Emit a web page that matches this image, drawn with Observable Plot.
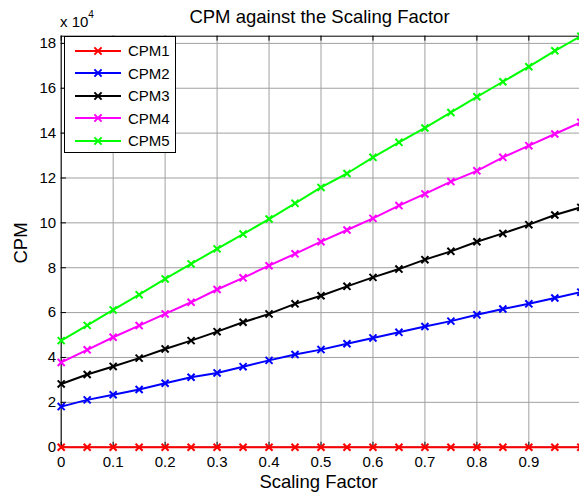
<!DOCTYPE html>
<html>
<head>
<meta charset="utf-8">
<script src="https://cdn.jsdelivr.net/npm/d3@7"></script>
<script src="https://cdn.jsdelivr.net/npm/@observablehq/plot@0.6"></script>
<style>
  html, body { margin: 0; padding: 0; background: #fff; overflow: hidden; }
  #wrap { position: relative; width: 579px; height: 495px; font-family: "Liberation Sans", Arial, sans-serif; color: #000; }
  #wrap svg { position: absolute; left: 0; top: 0; }
  .lbl { position: absolute; white-space: nowrap; font-family: "Liberation Sans", Arial, sans-serif; }
  #legend { position: absolute; left: 64px; top: 36px; width: 112px; height: 117px; border: 1px solid #000; background: #fff; box-sizing: border-box; }
  .row { position: absolute; left: 9px; height: 20px; display: flex; align-items: center; font-size: 15px; }
  .row span { margin-left: 6px; }
</style>
</head>
<body>
<div id="wrap"></div>
<script>
// ---- data (values in units of 10^4) ----
const scaling = [0, 0.05, 0.1, 0.15, 0.2, 0.25, 0.3, 0.35, 0.4, 0.45, 0.5, 0.55, 0.6, 0.65, 0.7, 0.75, 0.8, 0.85, 0.9, 0.95, 1.0];
const cpm1 = [0, 0, 0, 0, 0, 0, 0, 0, 0, 0, 0, 0, 0, 0, 0, 0, 0, 0, 0, 0, 0];
const cpm2 = [1.81, 2.11, 2.34, 2.57, 2.85, 3.12, 3.31, 3.59, 3.87, 4.13, 4.35, 4.61, 4.87, 5.12, 5.38, 5.62, 5.90, 6.16, 6.39, 6.65, 6.91];
const cpm3 = [2.82, 3.24, 3.60, 3.97, 4.38, 4.75, 5.15, 5.57, 5.94, 6.39, 6.75, 7.17, 7.57, 7.94, 8.36, 8.73, 9.16, 9.53, 9.92, 10.35, 10.69];
const cpm4 = [3.78, 4.34, 4.90, 5.42, 5.94, 6.46, 7.03, 7.55, 8.09, 8.62, 9.16, 9.68, 10.20, 10.77, 11.29, 11.84, 12.32, 12.92, 13.44, 13.96, 14.48];
const cpm5 = [4.75, 5.43, 6.12, 6.80, 7.50, 8.17, 8.84, 9.50, 10.17, 10.87, 11.58, 12.20, 12.92, 13.59, 14.23, 14.92, 15.62, 16.29, 16.96, 17.67, 18.32];
const seriesNames = ["CPM1", "CPM2", "CPM3", "CPM4", "CPM5"];
const seriesColors = ["#ff0000", "#0000ff", "#000000", "#ff00ff", "#00ff00"];
const xTicks = [0, 0.1, 0.2, 0.3, 0.4, 0.5, 0.6, 0.7, 0.8, 0.9, 1];
const xTickLabels = ["0", "0.1", "0.2", "0.3", "0.4", "0.5", "0.6", "0.7", "0.8", "0.9"];
const yTicks = [0, 2, 4, 6, 8, 10, 12, 14, 16, 18];
const yTickLabels = ["0", "2", "4", "6", "8", "10", "12", "14", "16", "18"];
const yMax = 18.32;
const titleText = "CPM against the Scaling Factor";
const xLabelText = "Scaling Factor";
const yLabelText = "CPM";

const allSeries = [cpm1, cpm2, cpm3, cpm4, cpm5];
const rows = allSeries.flatMap((vals, i) => vals.map((v, j) => ({series: seriesNames[i], x: scaling[j], y: v})));
const xLabelTicks = xTicks.slice(0, xTickLabels.length);

const W = 579, H = 495;
const chart = Plot.plot({
  width: W,
  height: H,
  marginLeft: 60.7,
  marginRight: 0,
  marginTop: 35.7,
  marginBottom: 48.3,
  style: {background: "#fff", fontFamily: "'Liberation Sans', Arial, sans-serif"},
  x: {domain: [0, 1], range: [60.7, 580.3], axis: null},
  y: {domain: [0, yMax], axis: null},
  color: {domain: seriesNames, range: seriesColors},
  marks: [
    // grid
    Plot.ruleX(xTicks, {x: d => d, stroke: "#a0a0a0", strokeWidth: 1}),
    Plot.ruleY(yTicks, {y: d => d, stroke: "#a0a0a0", strokeWidth: 1}),
    // axes box
    Plot.ruleX([0], {x: d => d, stroke: "#000", strokeWidth: 1}),
    Plot.ruleY([yMax], {y: d => d, stroke: "#000", strokeWidth: 1}),
    Plot.ruleY([0], {y: d => d, stroke: "#000", strokeWidth: 1}),
    // inward ticks
    Plot.ruleY(yTicks, {y: d => d, x1: 0, x2: 0.01, stroke: "#000"}),
    Plot.ruleX(xTicks, {x: d => d, y1: yMax, y2: yMax - 0.22, stroke: "#000"}),
    Plot.ruleX(xTicks, {x: d => d, y1: 0, y2: 0.22, stroke: "#000"}),
    // tick labels
    Plot.text(xLabelTicks, {x: d => d, y: 0, text: (d, i) => xTickLabels[i], dy: 9.5, lineAnchor: "top", fontSize: 15, fill: "#000"}),
    Plot.text(yTicks, {x: 0, y: d => d, text: (d, i) => yTickLabels[i], dx: -5, textAnchor: "end", fontSize: 15, fill: "#000"}),
    // data
    Plot.line(rows, {x: "x", y: "y", z: "series", stroke: "series", strokeWidth: 2}),
    Plot.dot(rows, {x: "x", y: "y", stroke: "series", symbol: "times", r: 3.3, strokeWidth: 2})
  ]
});
const wrap = document.getElementById("wrap");
wrap.appendChild(chart);

function addLabel(html, css) {
  const d = document.createElement("div");
  d.className = "lbl";
  d.innerHTML = html;
  Object.assign(d.style, css);
  wrap.appendChild(d);
  return d;
}
// title
addLabel(titleText, {left: "0px", width: "639px", textAlign: "center", top: "6px", fontSize: "18.5px"});
// x label
addLabel(xLabelText, {left: "0px", width: "637px", textAlign: "center", top: "471px", fontSize: "18.5px"});
// y label
addLabel(yLabelText, {left: "20.5px", top: "242.5px", fontSize: "18.5px", transform: "translate(-50%,-50%) rotate(-90deg)"});
// exponent
addLabel('x 10<sup style="font-size:10px;position:relative;top:-3px;">4</sup>', {left: "60px", top: "12px", fontSize: "15px"});

// legend
const leg = document.createElement("div");
leg.id = "legend";
seriesNames.forEach((name, i) => {
  const r = document.createElement("div");
  r.className = "row";
  r.style.top = (3.5 + i * 22.6) + "px";
  const c = seriesColors[i];
  r.innerHTML = `<svg width="48" height="20" style="position:static"><line x1="1" y1="10" x2="47" y2="10" stroke="${c}" stroke-width="2"/>` +
    `<path d="M20.4,6.4L27.6,13.6M20.4,13.6L27.6,6.4" stroke="${c}" stroke-width="2" fill="none"/></svg><span>${name}</span>`;
  leg.appendChild(r);
});
wrap.appendChild(leg);
</script>
</body>
</html>
